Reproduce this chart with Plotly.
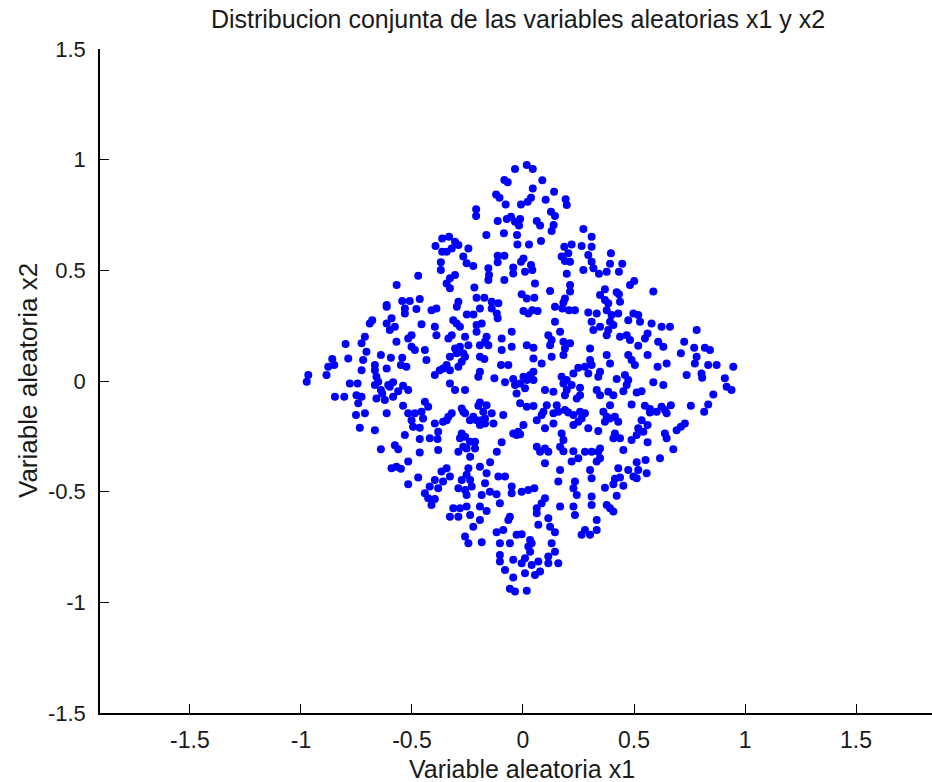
import plotly.graph_objects as go

# Muestras de la distribucion conjunta (x1, x2)
x1 = [
    # parte superior
    -0.036, 0.017, 0.044, -0.084, -0.069, 0.087, 0.044, -0.121, -0.106, -0.078,
    -0.009, 0.021, 0.036, 0.102, 0.140, 0.192, 0.197, -0.211, -0.211, 0.126,
    0.144, -0.114, -0.073, -0.054, -0.036, -0.013, -0.018, 0.062, 0.077, 0.138,
    0.129, 0.272, -0.165, -0.086, -0.027, 0.309, -0.333, -0.306, -0.291, -0.321,
    -0.344, -0.246, -0.025, 0.027, 0.081, 0.186, 0.219, 0.264, 0.309, -0.269,
    -0.254, -0.224, -0.114, -0.084, -0.114, 0.002, -0.009, 0.174, 0.204, 0.189,
    0.212, 0.294, 0.309, 0.317, -0.156, -0.153, -0.044, -0.044, 0.009, 0.036,
    0.042, 0.272, 0.197, -0.329, -0.306, -0.344, -0.329, -0.084, -0.156, 0.054,
    0.212, 0.212, -0.219, 0.122, -0.209, -0.174, -0.006, 0.017, 0.051, 0.189,
    0.182, -0.291, -0.141, -0.111,
    # superior izquierda
    -0.364, -0.394, -0.364, -0.370, -0.370, -0.472, -0.569, -0.544, -0.510, -0.465,
    -0.614,
    # superior derecha
    0.396, 0.392, 0.447, 0.377, 0.342, 0.432, 0.482, 0.501, 0.369, 0.422,
    0.587, 0.347, 0.369, 0.432, 0.437, 0.384,
    # centro izquierda
    -0.614, -0.532, -0.480, -0.412, -0.390, -0.532, -0.679, -0.690, -0.592, -0.614,
    -0.577, -0.600, -0.457, -0.397, -0.390, -0.502, -0.517, -0.712, -0.727, -0.799,
    -0.705, -0.570, -0.502, -0.487, -0.442, -0.435, -0.640, -0.595, -0.544, -0.550,
    -0.525, -0.787, -0.859, -0.877, -0.850, -0.885, -0.720, -0.727, -0.667, -0.667,
    -0.614, -0.967, -0.974, -0.397, -0.375, -0.360, -0.660, -0.652, -0.667, -0.640,
    -0.634, -0.607, -0.585, -0.600, -0.540, -0.517, -0.562, -0.780, -0.745, -0.847,
    -0.805, -0.750, -0.727, -0.742, -0.660, -0.622, -0.585, -0.540, -0.442, -0.427,
    -0.752, -0.712, -0.614, -0.517, -0.487, -0.457, -0.502, -0.450, -0.397, -0.360,
    -0.735, -0.667, -0.495, -0.465, -0.532, -0.465, -0.420, -0.385, -0.382, -0.640,
    -0.577, -0.562, -0.465, -0.382,
    # centro
    -0.298, -0.253, -0.223, -0.194, -0.141, -0.118, -0.114, 0.002, 0.024, 0.042,
    0.066, 0.144, 0.177, 0.207, 0.234, 0.294, 0.309, 0.317, 0.144, 0.167,
    -0.314, -0.299, -0.284, -0.209, -0.186, -0.209, -0.261, -0.336, -0.321, -0.164,
    -0.171, -0.194, -0.156, -0.051, -0.096, 0.114, 0.122, 0.129, 0.182, 0.189,
    0.212, 0.182, 0.129, -0.306, -0.284, -0.246, -0.299, -0.269, -0.329, -0.276,
    -0.261, -0.291, -0.344, -0.329, -0.096, -0.051, 0.017, 0.047, 0.047, 0.084,
    -0.194, -0.174, -0.099, -0.066, 0.302, 0.302, 0.309, 0.279, 0.249, 0.294,
    0.227, -0.194, -0.201, -0.129, -0.081, -0.044, -0.036, -0.013, 0.002, 0.017,
    0.032, 0.047, 0.047, -0.329, -0.306, -0.261, -0.029, 0.009, 0.099, 0.137,
    0.174, 0.182, 0.197, 0.197, 0.189, 0.219, 0.257, 0.257, 0.242, -0.013,
    0.017, 0.047, -0.194, -0.201, -0.164, -0.179, -0.141, -0.171, -0.224, -0.209,
    -0.186, -0.194, -0.171, -0.133, -0.239, -0.276, -0.269, -0.261, -0.321, -0.336,
    -0.344, -0.089, 0.107, 0.152, 0.092, 0.084, 0.062, 0.137, 0.159, 0.189,
    0.204, 0.227, 0.257, 0.264, 0.227, 0.249, 0.279, 0.099, 0.137, 0.002,
    -0.021, -0.044, -0.029, -0.013, -0.276, -0.261, -0.284, -0.239, -0.216, -0.269,
    -0.254, -0.291, -0.216, -0.096, -0.118, 0.062, 0.077, 0.099, 0.114, 0.174,
    0.182, 0.167, 0.182, 0.227, 0.279, 0.309, 0.294,
    # centro derecha
    0.332, 0.377, 0.399, 0.429, 0.392, 0.407, 0.384, 0.377, 0.347, 0.497,
    0.519, 0.527, 0.474, 0.579, 0.624, 0.662, 0.437, 0.467, 0.482, 0.519,
    0.549, 0.561, 0.609, 0.632, 0.726, 0.771, 0.782, 0.819, 0.842, 0.377,
    0.392, 0.474, 0.489, 0.504, 0.561, 0.606, 0.647, 0.711, 0.782, 0.774,
    0.834, 0.872, 0.947, 0.347, 0.339, 0.422, 0.459, 0.474, 0.467, 0.587,
    0.632, 0.737, 0.804, 0.807, 0.909, 0.917, 0.939, 0.332, 0.347, 0.384,
    0.407, 0.452, 0.512, 0.534, 0.392, 0.489, 0.549, 0.572, 0.572, 0.602,
    0.624, 0.639, 0.666, 0.647, 0.756, 0.834, 0.816, 0.857, 0.362, 0.377,
    0.392, 0.414, 0.429, 0.369, 0.534, 0.561, 0.519, 0.542, 0.729, 0.711,
    0.692, 0.339, 0.414, 0.407, 0.437, 0.489, 0.512, 0.561, 0.639, 0.647,
    0.677, 0.347, 0.339, 0.452,
    # inferior izquierda
    -0.517, -0.592, -0.570, -0.550, -0.472, -0.517, -0.420, -0.397, -0.367, -0.382,
    -0.442, -0.427, -0.412, -0.397, -0.360,
    # parte inferior
    -0.238, -0.148, -0.194, -0.246, -0.254, -0.276, -0.238, -0.291, -0.261, -0.231,
    -0.254, -0.164, -0.171, -0.186, -0.149, -0.119, -0.111, -0.081, -0.344, -0.329,
    -0.104, -0.051, -0.051, -0.006, 0.024, 0.051, 0.099, 0.084, 0.062, 0.062,
    -0.314, -0.284, -0.254, -0.329, -0.291, -0.238, -0.194, -0.164, -0.194, -0.224,
    -0.059, -0.066, -0.119, -0.089, -0.029, -0.006, 0.032, 0.039, 0.024, 0.032,
    0.069, 0.114, 0.122, 0.144, 0.167, 0.227, 0.234, -0.261, -0.246, -0.186,
    -0.104, -0.059, -0.104, -0.104, -0.044, 0.009, -0.006, 0.039, 0.069, 0.114,
    0.129, 0.144, 0.114, 0.159, -0.081, -0.044, 0.009, 0.054, 0.077, -0.059,
    -0.036, 0.017, 0.099, 0.167, 0.159, 0.219, 0.249, 0.302, 0.309, 0.234,
    0.227, 0.242, 0.309, 0.309, 0.279, 0.302, 0.264,
    # inferior derecha
    0.347, 0.332, 0.429, 0.474, 0.512, 0.552, 0.617, 0.519, 0.557, 0.497,
    0.512, 0.414, 0.437, 0.407, 0.452, 0.369, 0.422, 0.377, 0.392, 0.407,
    0.332, 0.332,
]

x2 = [
    # parte superior
    0.958, 0.976, 0.958, 0.908, 0.898, 0.907, 0.870, 0.843, 0.828, 0.798,
    0.798, 0.810, 0.828, 0.819, 0.855, 0.821, 0.795, 0.776, 0.745, 0.765,
    0.745, 0.723, 0.732, 0.742, 0.720, 0.732, 0.702, 0.723, 0.702, 0.705,
    0.678, 0.687, 0.660, 0.667, 0.660, 0.652, 0.652, 0.629, 0.614, 0.599,
    0.584, 0.599, 0.617, 0.617, 0.632, 0.607, 0.617, 0.610, 0.607, 0.562,
    0.532, 0.520, 0.566, 0.566, 0.536, 0.554, 0.539, 0.562, 0.577, 0.542,
    0.539, 0.569, 0.539, 0.509, 0.509, 0.479, 0.513, 0.486, 0.494, 0.524,
    0.501, 0.501, 0.485, 0.464, 0.479, 0.441, 0.419, 0.456, 0.456, 0.441,
    0.434, 0.404, 0.423, 0.407, 0.376, 0.376, 0.392, 0.373, 0.376, 0.373,
    0.355, 0.358, 0.358, 0.351,
    # superior izquierda
    0.644, 0.610, 0.584, 0.536, 0.501, 0.476, 0.434, 0.361, 0.361, 0.370,
    0.343,
    # superior derecha
    0.577, 0.530, 0.530, 0.494, 0.485, 0.494, 0.434, 0.452, 0.414, 0.401,
    0.404, 0.389, 0.366, 0.392, 0.358, 0.351,
    # centro izquierda
    0.335, 0.328, 0.325, 0.320, 0.328, 0.305, 0.275, 0.260, 0.283, 0.260,
    0.245, 0.230, 0.256, 0.245, 0.207, 0.207, 0.192, 0.200, 0.170, 0.167,
    0.132, 0.177, 0.155, 0.140, 0.140, 0.095, 0.117, 0.105, 0.105, 0.072,
    0.064, 0.102, 0.099, 0.064, 0.072, 0.027, 0.095, 0.049, 0.072, 0.049,
    0.057, 0.027, -0.003, 0.027, 0.049, 0.057, 0.019, -0.003, -0.018, -0.041,
    -0.056, -0.018, -0.006, -0.026, -0.021, -0.041, -0.046, -0.011, -0.011, -0.071,
    -0.071, -0.064, -0.071, -0.101, -0.079, -0.086, -0.071, -0.112, -0.094, -0.116,
    -0.154, -0.146, -0.146, -0.146, -0.146, -0.139, -0.177, -0.169, -0.192, -0.184,
    -0.211, -0.222, -0.207, -0.211, -0.244, -0.262, -0.259, -0.262, -0.229, -0.308,
    -0.290, -0.308, -0.323, -0.312,
    # centro
    0.335, 0.301, 0.301, 0.328, 0.328, 0.305, 0.283, 0.316, 0.305, 0.320,
    0.316, 0.335, 0.328, 0.320, 0.320, 0.310, 0.268, 0.230, 0.268, 0.223,
    0.275, 0.260, 0.245, 0.253, 0.260, 0.223, 0.200, 0.192, 0.207, 0.200,
    0.177, 0.162, 0.162, 0.223, 0.192, 0.207, 0.162, 0.185, 0.177, 0.147,
    0.170, 0.117, 0.110, 0.147, 0.155, 0.162, 0.125, 0.125, 0.110, 0.087,
    0.110, 0.064, 0.072, 0.049, 0.140, 0.155, 0.162, 0.150, 0.102, 0.079,
    0.110, 0.099, 0.072, 0.072, 0.147, 0.095, 0.072, 0.064, 0.060, 0.034,
    0.034, 0.042, 0.019, 0.012, -0.006, 0.009, -0.018, -0.011, 0.019, 0.004,
    0.027, 0.042, 0.004, -0.011, -0.041, -0.041, -0.056, -0.033, -0.041, -0.049,
    0.019, -0.011, 0.004, -0.041, -0.064, -0.018, -0.030, -0.064, -0.079, -0.101,
    -0.116, -0.113, -0.097, -0.112, -0.109, -0.139, -0.146, -0.169, -0.162, -0.177,
    -0.177, -0.199, -0.192, -0.192, -0.177, -0.124, -0.139, -0.146, -0.146, -0.162,
    -0.177, -0.154, -0.109, -0.109, -0.139, -0.154, -0.177, -0.146, -0.139, -0.131,
    -0.142, -0.154, -0.139, -0.169, -0.199, -0.184, -0.146, -0.214, -0.192, -0.199,
    -0.229, -0.237, -0.244, -0.241, -0.237, -0.252, -0.259, -0.274, -0.274, -0.297,
    -0.305, -0.320, -0.305, -0.277, -0.320, -0.297, -0.320, -0.305, -0.320, -0.237,
    -0.267, -0.297, -0.317, -0.317, -0.320, -0.320, -0.214,
    # centro derecha
    0.305, 0.320, 0.298, 0.305, 0.268, 0.253, 0.230, 0.207, 0.245, 0.305,
    0.298, 0.268, 0.275, 0.260, 0.245, 0.245, 0.200, 0.207, 0.185, 0.159,
    0.192, 0.215, 0.177, 0.155, 0.177, 0.150, 0.230, 0.150, 0.140, 0.117,
    0.079, 0.117, 0.095, 0.072, 0.117, 0.064, 0.079, 0.125, 0.110, 0.079,
    0.072, 0.072, 0.064, 0.042, 0.019, 0.009, 0.027, 0.004, -0.018, -0.006,
    -0.018, 0.027, 0.034, 0.015, 0.012, -0.026, -0.041, -0.041, -0.064, -0.049,
    -0.064, -0.046, -0.052, -0.046, -0.109, -0.106, -0.112, -0.127, -0.142, -0.139,
    -0.116, -0.131, -0.109, -0.146, -0.112, -0.106, -0.139, -0.061, -0.139, -0.162,
    -0.169, -0.162, -0.184, -0.184, -0.177, -0.199, -0.214, -0.229, -0.192, -0.207,
    -0.222, -0.226, -0.237, -0.259, -0.259, -0.267, -0.244, -0.277, -0.237, -0.259,
    -0.308, -0.305, -0.320, -0.312,
    # inferior izquierda
    -0.364, -0.394, -0.387, -0.397, -0.436, -0.467, -0.477, -0.447, -0.409, -0.485,
    -0.507, -0.530, -0.560, -0.533, -0.454,
    # parte inferior
    -0.342, -0.367, -0.387, -0.394, -0.424, -0.447, -0.447, -0.485, -0.492, -0.477,
    -0.515, -0.417, -0.462, -0.515, -0.500, -0.512, -0.432, -0.432, -0.394, -0.432,
    -0.552, -0.477, -0.507, -0.500, -0.492, -0.485, -0.530, -0.552, -0.575, -0.598,
    -0.575, -0.575, -0.567, -0.613, -0.613, -0.605, -0.567, -0.587, -0.628, -0.658,
    -0.613, -0.628, -0.683, -0.673, -0.695, -0.692, -0.718, -0.733, -0.748, -0.771,
    -0.650, -0.620, -0.658, -0.683, -0.567, -0.567, -0.605, -0.703, -0.733, -0.729,
    -0.733, -0.733, -0.786, -0.816, -0.808, -0.801, -0.823, -0.831, -0.816, -0.793,
    -0.733, -0.771, -0.823, -0.823, -0.854, -0.888, -0.869, -0.876, -0.861, -0.939,
    -0.951, -0.948, -0.372, -0.402, -0.454, -0.364, -0.349, -0.402, -0.439, -0.454,
    -0.485, -0.515, -0.522, -0.560, -0.673, -0.695, -0.695,
    # inferior derecha
    -0.349, -0.364, -0.394, -0.402, -0.367, -0.357, -0.349, -0.402, -0.417, -0.432,
    -0.439, -0.442, -0.436, -0.467, -0.473, -0.482, -0.518, -0.560, -0.575, -0.590,
    -0.628, -0.673,
]

x_ticks = [-1.5, -1, -0.5, 0, 0.5, 1, 1.5]
y_ticks = [-1.5, -1, -0.5, 0, 0.5, 1, 1.5]

font_family = "Liberation Sans, Arial, sans-serif"
text_color = "#1a1a1a"

fig = go.Figure(
    go.Scatter(
        x=x1,
        y=x2,
        mode="markers",
        marker=dict(color="#0000ff", size=8, line=dict(width=0)),
        hoverinfo="skip",
    )
)

fig.update_layout(
    width=932,
    height=782,
    margin=dict(l=100, r=0, t=49, b=69),
    paper_bgcolor="white",
    plot_bgcolor="white",
    showlegend=False,
    font=dict(family=font_family, size=23, color=text_color),
    title=dict(
        text="Distribucion conjunta de las variables aleatorias x1 y x2",
        x=518 / 932,
        xanchor="center",
        y=1 - 19 / 782,
        yanchor="middle",
        font=dict(family=font_family, size=25, color=text_color),
    ),
    annotations=[
        dict(
            text="Variable aleatoria x1",
            xref="paper", yref="paper",
            x=(522 - 100) / 832, y=(713 - 769) / 664,
            xanchor="center", yanchor="middle",
            showarrow=False,
            font=dict(family=font_family, size=25, color=text_color),
        ),
        dict(
            text="Variable aleatoria x2",
            xref="paper", yref="paper",
            x=(28 - 100) / 832, y=0.5,
            xanchor="center", yanchor="middle",
            textangle=-90,
            showarrow=False,
            font=dict(family=font_family, size=26, color=text_color),
        ),
    ],
)

axis_common = dict(
    showgrid=False,
    zeroline=False,
    showline=True,
    linecolor="black",
    linewidth=1.5,
    ticks="inside",
    ticklen=9,
    tickwidth=1,
    tickcolor="black",
    mirror=False,
)

fig.update_xaxes(
    range=[-1.905, 1.842],
    tickvals=x_ticks,
    ticktext=[f"{v:g}" for v in x_ticks],
    ticklabelstandoff=6,
    tickfont=dict(family=font_family, size=23, color=text_color),
    **axis_common,
)
fig.update_yaxes(
    range=[-1.5, 1.5],
    tickvals=y_ticks,
    ticktext=[f"{v:g}" for v in y_ticks],
    ticklabelstandoff=8,
    tickfont=dict(family=font_family, size=22, color=text_color),
    **axis_common,
)

fig.write_html("out.html")
